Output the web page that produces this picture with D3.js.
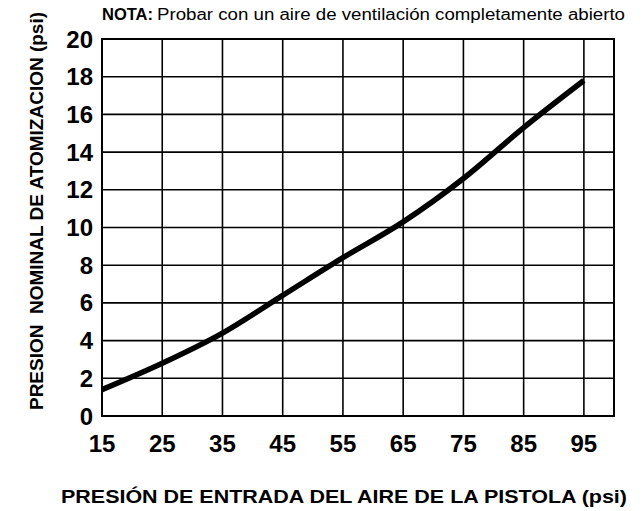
<!DOCTYPE html>
<html>
<head>
<meta charset="utf-8">
<script src="https://cdn.jsdelivr.net/npm/d3@7"></script>
<style>
  body { margin: 0; background: #fff; }
  text { font-family: "Liberation Sans", Arial, Helvetica, sans-serif; fill: #000; }
</style>
</head>
<body>
<svg id="chart" width="644" height="511"></svg>
<script>
// inlet air pressure (psi) vs nominal atomizing pressure (psi)
const inletPressure = [15, 25, 35, 45, 55, 65, 75, 85, 95];
const atomizingPressure = [1.4, 2.8, 4.4, 6.4, 8.4, 10.3, 12.6, 15.3, 17.8];
const xTicks = [15, 25, 35, 45, 55, 65, 75, 85, 95];
const yTicks = [0, 2, 4, 6, 8, 10, 12, 14, 16, 18, 20];

const svg = d3.select("#chart");
const plot = {left: 102, right: 614, top: 39, bottom: 416};

const x = d3.scaleLinear().domain([15, 100]).range([plot.left, plot.right]);
const y = d3.scaleLinear().domain([0, 20]).range([plot.bottom, plot.top]);

// grid
const grid = svg.append("g").attr("stroke", "#000").attr("stroke-width", 1.6);
grid.selectAll("line.v")
    .data(xTicks.slice(1))
    .join("line")
    .attr("x1", d => x(d)).attr("x2", d => x(d))
    .attr("y1", plot.top).attr("y2", plot.bottom);
grid.selectAll("line.h")
    .data(yTicks.slice(1, -1))
    .join("line")
    .attr("x1", plot.left).attr("x2", plot.right)
    .attr("y1", d => y(d)).attr("y2", d => y(d));

svg.append("rect")
    .attr("x", plot.left).attr("y", plot.top)
    .attr("width", plot.right - plot.left)
    .attr("height", plot.bottom - plot.top)
    .attr("fill", "none")
    .attr("stroke", "#000")
    .attr("stroke-width", 2);

// tick labels
svg.append("g").selectAll("text")
    .data(yTicks)
    .join("text")
    .attr("x", 93)
    .attr("y", d => y(d) + 8.5)
    .attr("text-anchor", "end")
    .attr("font-size", 24)
    .attr("font-weight", "bold")
    .text(d => d);

svg.append("g").selectAll("text")
    .data(xTicks)
    .join("text")
    .attr("x", d => x(d))
    .attr("y", 452)
    .attr("text-anchor", "middle")
    .attr("font-size", 24)
    .attr("font-weight", "bold")
    .text(d => d);

// curve
const line = d3.line()
    .x((d, i) => x(inletPressure[i]))
    .y(d => y(d))
    .curve(d3.curveMonotoneX);

svg.append("path")
    .datum(atomizingPressure)
    .attr("d", line)
    .attr("fill", "none")
    .attr("stroke", "#000")
    .attr("stroke-width", 5.5)
    .attr("stroke-linecap", "butt");

// titles
svg.append("text")
    .attr("transform", "translate(43,211) rotate(-90)")
    .attr("text-anchor", "middle")
    .attr("font-size", 19)
    .attr("font-weight", "bold")
    .attr("textLength", 398)
    .attr("lengthAdjust", "spacingAndGlyphs")
    .attr("xml:space", "preserve")
    .text("PRESION  NOMINAL DE ATOMIZACION (psi)");

svg.append("text")
    .attr("x", 344)
    .attr("y", 503)
    .attr("text-anchor", "middle")
    .attr("font-size", 19)
    .attr("font-weight", "bold")
    .attr("textLength", 566)
    .attr("lengthAdjust", "spacingAndGlyphs")
    .text("PRESIÓN DE ENTRADA DEL AIRE DE LA PISTOLA (psi)");

const note = svg.append("text")
    .attr("x", 102)
    .attr("y", 20)
    .attr("font-size", 16);
note.append("tspan")
    .attr("font-weight", "bold")
    .attr("textLength", 51)
    .attr("lengthAdjust", "spacingAndGlyphs")
    .text("NOTA:");
note.append("tspan")
    .attr("x", 157)
    .attr("textLength", 468)
    .attr("lengthAdjust", "spacingAndGlyphs")
    .text("Probar con un aire de ventilación completamente abierto");
</script>
</body>
</html>
